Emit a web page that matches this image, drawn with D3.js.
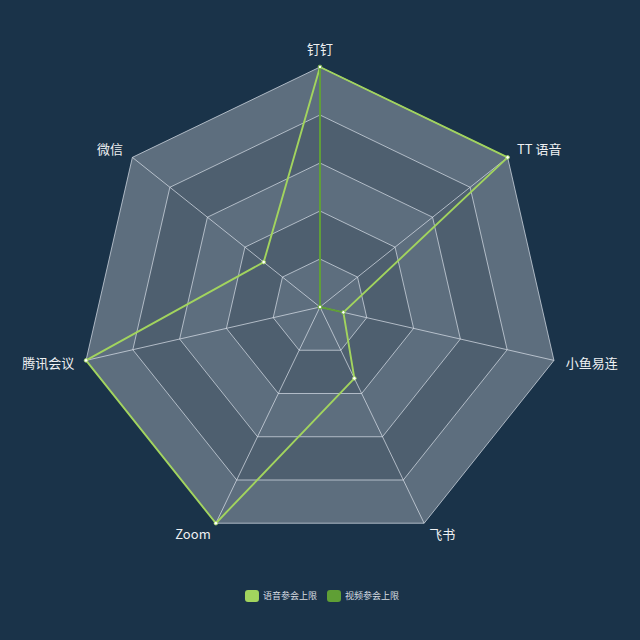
<!DOCTYPE html>
<html>
<head>
<meta charset="utf-8">
<script src="https://cdn.jsdelivr.net/npm/d3@7"></script>
<style>
  html, body { margin: 0; padding: 0; background: #1a3349; }
  svg { display: block; }
</style>
</head>
<body>
<svg id="chart" width="640" height="640"></svg>
<script>
// axes of the radar, clockwise from the top
var indicators = ["钉钉", "TT 语音", "小鱼易连", "飞书", "Zoom", "腾讯会议", "微信"];
var seriesNames = ["语音参会上限", "视频参会上限"];
var voiceLimit = [100, 100, 10, 33, 100, 100, 30];
var videoLimit = [100, 0, 10, 0, 0, 0, 0];
var ringLevels = [20, 40, 60, 80, 100];
var seriesColors = ["#a2d45e", "#5f9f35"];

var width = 640, height = 640;
var cx = 320, cy = 307, radius = 240;

var svg = d3.select("#chart");
svg.append("rect").attr("width", width).attr("height", height).attr("fill", "#1a3349");

var g = svg.append("g").attr("transform", "translate(" + cx + "," + cy + ")");

var rScale = d3.scaleLinear().domain([0, 100]).range([0, radius]);
var aScale = d3.scaleLinear().domain([0, indicators.length]).range([0, 2 * Math.PI]);

function point(i, v){
  var a = aScale(i);
  return [rScale(v) * Math.sin(a), -rScale(v) * Math.cos(a)];
}

function ringPath(v){
  return "M" + indicators.map(function(d, i){ return point(i, v).join(","); }).join("L") + "Z";
}

/*************************** split areas ***************************/

var bandFills = ["rgba(250,250,250,0.3)", "rgba(200,200,200,0.3)"];
ringLevels.forEach(function(level, k){
  var inner = k == 0 ? 0 : ringLevels[k - 1];
  var d = ringPath(level) + (inner > 0 ? ringPath(inner) : "");
  g.append("path")
    .attr("d", d)
    .attr("fill-rule", "evenodd")
    .attr("fill", bandFills[k % 2]);
});

/*************************** split lines + axis lines ***************************/

g.selectAll(".ring").data(ringLevels).enter().append("path")
  .attr("class", "ring")
  .attr("d", function(d){ return ringPath(d); })
  .attr("fill", "none")
  .attr("stroke", "rgba(225,232,240,0.85)")
  .attr("stroke-width", 0.8);

g.selectAll(".spoke").data(indicators).enter().append("line")
  .attr("class", "spoke")
  .attr("x1", 0).attr("y1", 0)
  .attr("x2", function(d, i){ return point(i, 100)[0]; })
  .attr("y2", function(d, i){ return point(i, 100)[1]; })
  .attr("stroke", "rgba(225,232,240,0.85)")
  .attr("stroke-width", 0.8);

/*************************** axis names ***************************/

var nameGap = 12;
g.selectAll(".axis-name").data(indicators).enter().append("text")
  .attr("class", "axis-name")
  .attr("x", function(d, i){ return (radius + nameGap) * Math.sin(aScale(i)); })
  .attr("y", function(d, i){ return -(radius + nameGap) * Math.cos(aScale(i)); })
  .attr("text-anchor", function(d, i){
    var s = Math.sin(aScale(i));
    return Math.abs(s) < 0.1 ? "middle" : (s > 0 ? "start" : "end");
  })
  .attr("dy", function(d, i){ return Math.cos(aScale(i)) > 0.95 ? "-0.1em" : "0.35em"; })
  .attr("font-family", "'Noto Sans CJK SC', 'Noto Sans', sans-serif")
  .attr("font-size", 13)
  .attr("fill", "#eef0f2")
  .text(function(d){ return d; });

/*************************** series ***************************/

var line = d3.line().curve(d3.curveLinearClosed);
var allSeries = [voiceLimit, videoLimit];

allSeries.forEach(function(values, s){
  var pts = values.map(function(v, i){ return point(i, v); });
  g.append("path")
    .attr("d", line(pts))
    .attr("fill", "none")
    .attr("stroke", seriesColors[s])
    .attr("stroke-width", 1.9)
    .attr("stroke-linejoin", "round");
  g.selectAll(".dot-" + s).data(pts).enter().append("circle")
    .attr("class", "dot-" + s)
    .attr("cx", function(d){ return d[0]; })
    .attr("cy", function(d){ return d[1]; })
    .attr("r", 1.8)
    .attr("fill", "#ffffff")
    .attr("stroke", seriesColors[s])
    .attr("stroke-width", 0.8);
});

/*************************** legend ***************************/

var legend = svg.append("g");
var xPos = 0;
seriesNames.forEach(function(name, s){
  var item = legend.append("g").attr("transform", "translate(" + xPos + ",0)");
  item.append("rect")
    .attr("x", 0).attr("y", -6).attr("width", 14).attr("height", 12)
    .attr("rx", 3).attr("fill", seriesColors[s]);
  var t = item.append("text")
    .attr("x", 18).attr("y", 0).attr("dy", "0.35em")
    .attr("font-family", "'Noto Sans CJK SC', sans-serif")
    .attr("font-size", 9)
    .attr("fill", "#d8dde2")
    .text(name);
  xPos += 18 + t.node().getComputedTextLength() + 10;
});
var legendWidth = xPos - 10;
legend.attr("transform", "translate(" + (322 - legendWidth / 2) + ",596)");
</script>
</body>
</html>
